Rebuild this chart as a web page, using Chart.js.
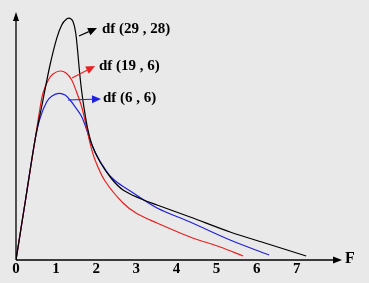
<!DOCTYPE html>
<html>
<head>
<meta charset="utf-8">
<script src="https://cdn.jsdelivr.net/npm/chart.js@4.4.1/dist/chart.umd.min.js"></script>
<style>
  html, body { margin: 0; padding: 0; background: #ebebeb; }
  #wrap { width: 369px; height: 283px; }
</style>
</head>
<body>
<div id="wrap"><canvas id="c" width="369" height="283"></canvas></div>
<script>
// ---- data (F value, density height) ----
const xTicks = [0, 1, 2, 3, 4, 5, 6, 7];
const seriesLabels = ['df (29 , 28)', 'df (19 , 6)', 'df (6 , 6)'];

const blackX = [0, 0.237, 0.474, 0.648, 0.848, 1.015, 1.14, 1.247, 1.347, 1.421, 1.484, 1.534, 1.584, 1.633, 1.696, 1.783, 1.895, 2.095, 2.387, 2.668, 3.092, 3.516, 4.339, 5.337, 6.284, 7.232];
const blackY = [0, 60, 120, 155, 195, 221.7, 235, 240.5, 241.7, 238.5, 228, 210, 188, 170, 152, 132, 115, 98, 81, 70, 61.5, 55, 43, 28, 16, 4];

const redX = [0, 0.237, 0.474, 0.599, 0.673, 0.805, 0.923, 1.097, 1.247, 1.389, 1.509, 1.638, 1.746, 1.845, 1.97, 2.219, 2.668, 3.01, 3.516, 4.339, 5.087, 5.661];
const redY = [0, 60, 120, 152, 167, 180, 186, 189, 187, 180, 168, 153, 135, 117, 100, 79, 57, 46.5, 37, 23, 13, 4];

const blueX = [0, 0.237, 0.474, 0.599, 0.766, 0.898, 1.072, 1.222, 1.347, 1.471, 1.638, 1.746, 1.845, 1.97, 2.137, 2.344, 2.544, 2.885, 3.516, 4.339, 5.337, 6.309];
const blueY = [0, 60, 120, 141.7, 158.3, 164, 166.7, 165, 160, 153.3, 143.3, 132, 120, 108, 96, 84, 77, 68, 52, 38, 20, 5];

function pts(xs, ys) { return xs.map((x, i) => ({ x: x, y: ys[i] })); }

const SERIF = '"Liberation Serif", "Times New Roman", serif';

const decor = {
  id: 'decor',
  beforeDraw(chart) {
    const ctx = chart.ctx;
    ctx.save();
    ctx.fillStyle = '#e9e9e9';
    ctx.fillRect(0, 0, chart.width, chart.height);
    ctx.restore();
  },
  afterDatasetsDraw(chart) {
    const ctx = chart.ctx;
    const a = chart.chartArea;
    const xs = chart.scales.x, ys = chart.scales.y;
    const x0 = xs.getPixelForValue(0), y0 = ys.getPixelForValue(0);
    ctx.save();
    ctx.strokeStyle = '#000';
    ctx.fillStyle = '#000';
    ctx.lineWidth = 1.3;
    // y axis
    ctx.beginPath(); ctx.moveTo(x0, y0); ctx.lineTo(x0, a.top + 6); ctx.stroke();
    ctx.beginPath(); ctx.moveTo(x0, a.top - 1); ctx.lineTo(x0 - 3, a.top + 8); ctx.lineTo(x0 + 3, a.top + 8); ctx.closePath(); ctx.fill();
    // x axis
    ctx.beginPath(); ctx.moveTo(x0, y0); ctx.lineTo(a.right - 6, y0); ctx.stroke();
    ctx.beginPath(); ctx.moveTo(a.right + 1, y0); ctx.lineTo(a.right - 8, y0 - 3.5); ctx.lineTo(a.right - 8, y0 + 3.5); ctx.closePath(); ctx.fill();
    // F label
    ctx.font = 'bold 16px ' + SERIF;
    ctx.textBaseline = 'middle';
    ctx.textAlign = 'left';
    ctx.fillText('F', a.right + 4, y0 - 1);

    // annotations
    function arrow(x1, y1, x2, y2, color) {
      ctx.strokeStyle = color; ctx.fillStyle = color; ctx.lineWidth = 1.2;
      const ang = Math.atan2(y2 - y1, x2 - x1);
      const L = 9, W = 4;
      const bx = x2 - L * Math.cos(ang), by = y2 - L * Math.sin(ang);
      ctx.beginPath(); ctx.moveTo(x1, y1); ctx.lineTo(bx, by); ctx.stroke();
      ctx.beginPath();
      ctx.moveTo(x2, y2);
      ctx.lineTo(bx + W * Math.sin(ang), by - W * Math.cos(ang));
      ctx.lineTo(bx - W * Math.sin(ang), by + W * Math.cos(ang));
      ctx.closePath(); ctx.fill();
    }
    arrow(79, 36, 97, 28, '#000');
    arrow(72, 78, 95, 66, '#e82020');
    arrow(68, 100, 101, 99, '#2020e0');

    ctx.fillStyle = '#000';
    ctx.font = 'bold 15px ' + SERIF;
    ctx.textBaseline = 'middle';
    ctx.fillText(seriesLabels[0], 102, 29);
    ctx.fillText(seriesLabels[1], 99, 66);
    ctx.fillText(seriesLabels[2], 103, 98);
    ctx.restore();
  }
};

new Chart(document.getElementById('c'), {
  type: 'line',
  data: {
    datasets: [
      { label: seriesLabels[0], data: pts(blackX, blackY), borderColor: '#000000', borderWidth: 1.2, pointRadius: 0, fill: false, tension: 0.35 },
      { label: seriesLabels[1], data: pts(redX, redY), borderColor: '#e82020', borderWidth: 1.2, pointRadius: 0, fill: false, tension: 0.35 },
      { label: seriesLabels[2], data: pts(blueX, blueY), borderColor: '#2020e0', borderWidth: 1.2, pointRadius: 0, fill: false, tension: 0.35 }
    ]
  },
  options: {
    responsive: false,
    animation: false,
    devicePixelRatio: 1,
    layout: { padding: { top: 13, right: 28, left: 0, bottom: 0 } },
    plugins: { legend: { display: false }, tooltip: { enabled: false } },
    scales: {
      x: {
        type: 'linear', min: 0, max: 8.1,
        grid: { display: false, drawTicks: false },
        border: { display: false },
        afterFit(s) { s.height = 23; },
        afterBuildTicks(s) { s.ticks = xTicks.map(v => ({ value: v })); },
        ticks: {
          autoSkip: false, maxRotation: 0, padding: 0,
          color: '#000',
          font: { family: SERIF, size: 15, weight: 'bold' },
          callback: v => String(v)
        }
      },
      y: {
        type: 'linear', min: 0, max: 247,
        grid: { display: false, drawTicks: false },
        border: { display: false },
        ticks: { display: false },
        afterFit(s) { s.width = 16; }
      }
    }
  },
  plugins: [decor]
});
</script>
</body>
</html>
